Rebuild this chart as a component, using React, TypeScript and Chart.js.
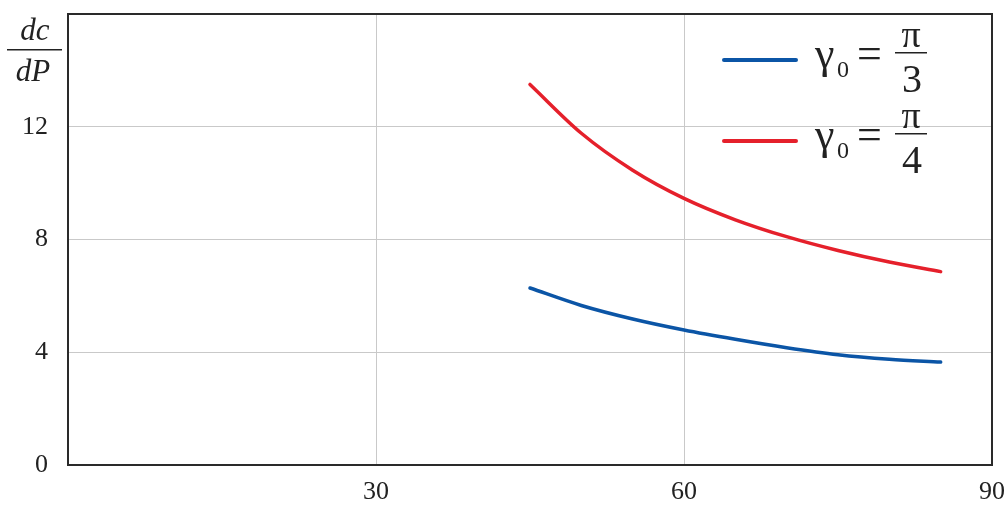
import React, { useEffect, useRef } from "react";
import { Chart, registerables } from "chart.js";

Chart.register(...registerables);

const xValues = [45, 50, 55, 60, 65, 70, 75, 80, 85];
const bluePi3 = [6.28, 5.66, 5.18, 4.79, 4.46, 4.16, 3.91, 3.75, 3.65];
const redPi4 = [13.5, 11.77, 10.46, 9.46, 8.7, 8.1, 7.61, 7.2, 6.86];
const xTicks = [30, 60, 90];
const yTicks = [0, 4, 8, 12];

const BLUE = "#0b55a6";
const RED = "#e5202b";
const SERIF = "'Liberation Serif', 'Times New Roman', serif";

const framePlugin = {
  id: "frameAndLegend",
  afterDraw(chart: any) {
    const { ctx, chartArea } = chart;
    ctx.save();
    ctx.strokeStyle = "#2a2a2a";
    ctx.lineWidth = 2;
    ctx.strokeRect(chartArea.left, chartArea.top, chartArea.right - chartArea.left, chartArea.bottom - chartArea.top);

    ctx.fillStyle = "#222";
    ctx.textAlign = "center";
    ctx.textBaseline = "alphabetic";
    ctx.font = `italic 31px ${SERIF}`;
    ctx.fillText("dc", 35, 40);
    ctx.fillText("dP", 33, 81);
    ctx.fillRect(7, 49, 55, 1.5);

    const entries = [
      { color: BLUE, den: "3", dy: 0 },
      { color: RED, den: "4", dy: 81 },
    ];
    for (const e of entries) {
      const d = e.dy;
      ctx.strokeStyle = e.color;
      ctx.lineWidth = 4;
      ctx.lineCap = "round";
      ctx.beginPath();
      ctx.moveTo(724, 60 + d);
      ctx.lineTo(796, 60 + d);
      ctx.stroke();

      ctx.fillStyle = "#222";
      ctx.textAlign = "left";
      ctx.font = `44px ${SERIF}`;
      ctx.fillText("γ", 815, 68 + d);
      ctx.font = `24px ${SERIF}`;
      ctx.fillText("0", 837, 77 + d);
      ctx.font = `44px ${SERIF}`;
      ctx.fillText("=", 857, 68 + d);
      ctx.textAlign = "center";
      ctx.font = `38px ${SERIF}`;
      ctx.fillText("π", 911, 47 + d);
      ctx.fillRect(895, 52 + d, 32, 1.5);
      ctx.font = `40px ${SERIF}`;
      ctx.fillText(e.den, 912, 92 + d);
    }
    ctx.restore();
  },
};

export default function App() {
  const ref = useRef<HTMLCanvasElement>(null);
  useEffect(() => {
    document.body.style.margin = "0";
    const canvas = ref.current!;
    const chart = new Chart(canvas, {
      type: "line",
      data: {
        datasets: [
          {
            label: "γ0 = π/3",
            data: xValues.map((x, i) => ({ x, y: bluePi3[i] })),
            borderColor: BLUE,
            borderWidth: 3.5,
            pointRadius: 0,
            cubicInterpolationMode: "monotone",
            borderCapStyle: "round",
          },
          {
            label: "γ0 = π/4",
            data: xValues.map((x, i) => ({ x, y: redPi4[i] })),
            borderColor: RED,
            borderWidth: 3.5,
            pointRadius: 0,
            cubicInterpolationMode: "monotone",
            borderCapStyle: "round",
          },
        ],
      },
      options: {
        animation: false,
        responsive: false,
        maintainAspectRatio: false,
        layout: { padding: { top: 14, right: 16, left: 0, bottom: 0 } },
        plugins: { legend: { display: false }, tooltip: { enabled: false } },
        scales: {
          x: {
            type: "linear",
            min: 0,
            max: 90,
            afterBuildTicks: (s: any) => {
              s.ticks = [0, ...xTicks].map((v) => ({ value: v }));
            },
            afterFit: (s: any) => {
              s.height = 52;
              s.paddingLeft = 0;
              s.paddingRight = 0;
              s.paddingTop = 0;
              s.paddingBottom = 0;
            },
            border: { display: false },
            grid: {
              drawTicks: false,
              lineWidth: 1,
              color: (c: any) => (c.tick && (c.tick.value === 30 || c.tick.value === 60) ? "#c9c9c9" : "rgba(0,0,0,0)"),
            },
            ticks: {
              padding: 12,
              maxRotation: 0,
              color: "#222",
              font: { family: SERIF, size: 26 },
              callback: (v: any) => (xTicks.includes(Number(v)) ? String(v) : ""),
            },
          },
          y: {
            type: "linear",
            min: 0,
            max: 16,
            afterBuildTicks: (s: any) => {
              s.ticks = [...yTicks, 16].map((v) => ({ value: v }));
            },
            afterFit: (s: any) => {
              s.width = 68;
              s.paddingLeft = 0;
              s.paddingRight = 0;
              s.paddingTop = 0;
              s.paddingBottom = 0;
            },
            border: { display: false },
            grid: {
              drawTicks: false,
              lineWidth: 1,
              color: (c: any) => (c.tick && c.tick.value > 0 && c.tick.value < 16 ? "#c9c9c9" : "rgba(0,0,0,0)"),
            },
            ticks: {
              padding: 20,
              color: "#222",
              font: { family: SERIF, size: 26 },
              callback: (v: any) => (yTicks.includes(Number(v)) ? String(v) : ""),
            },
          },
        },
      },
      plugins: [framePlugin],
    } as any);
    return () => chart.destroy();
  }, []);
  return (
    <div style={{ width: 1008, height: 517, position: "relative" }}>
      <canvas ref={ref} width={1008} height={517} style={{ display: "block" }} />
    </div>
  );
}
